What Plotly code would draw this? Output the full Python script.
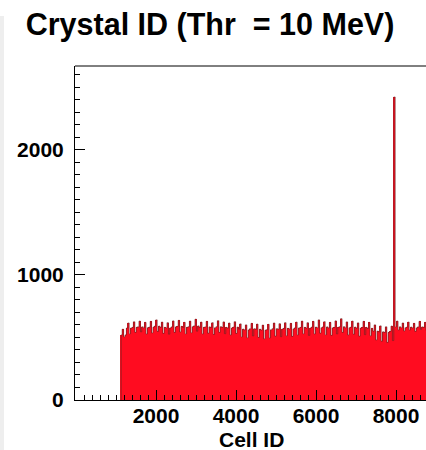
import plotly.graph_objects as go

# ---- data ----
bin_start = 1120          # first filled Cell ID
bin_width = 35            # Cell ID units per bin
# per ring-period (4 bins each: body, peak, notch, body)
body = [520, 575, 580, 585, 578, 582, 590, 580, 576, 584,
        588, 580, 586, 592, 580, 584, 578, 586, 580, 575,
        582, 566, 560, 570, 565, 558, 562, 570, 566, 572,
        568, 576, 580, 574, 582, 578, 584, 576, 580, 586,
        578, 582, 574, 580, 572, 550, 545, 540, 548, 585,
        578, 582, 576, 584, 580]
peak = [565, 615, 625, 630, 620, 628, 640, 622, 618, 632,
        636, 620, 630, 645, 622, 628, 618, 634, 624, 615,
        626, 608, 600, 612, 606, 598, 604, 615, 610, 618,
        612, 622, 630, 618, 628, 640, 626, 620, 632, 650,
        624, 630, 616, 628, 620, 600, 592, 585, 590, 630,
        615, 622, 612, 628, 620]
notch = [505, 530, 540, 545, 528, 536, 548, 532, 526, 540,
         544, 530, 538, 550, 528, 534, 524, 540, 530, 520,
         532, 505, 498, 512, 500, 490, 496, 510, 506, 514,
         508, 520, 530, 516, 528, 534, 522, 516, 528, 540,
         520, 526, 510, 522, 514, 480, 470, 460, 475, 560,
         552, 560, 548, 565, 556]
spike_bin = 195           # hot cell near ID 7975
spike_count = 2420

x_ticks = [2000, 4000, 6000, 8000]
y_ticks = [0, 1000, 2000]

# ---- assemble bins ----
counts = []
for b, p, n in zip(body, peak, notch):
    counts += [b, p, n, b]
counts[spike_bin] = spike_count
centers = [bin_start + bin_width * (i + 0.5) for i in range(len(counts))]

fig = go.Figure()
fig.add_trace(go.Bar(x=centers, y=counts, width=bin_width,
                     marker=dict(color="rgb(255,12,32)", line=dict(width=0)),
                     hoverinfo="skip"))
fig.add_trace(go.Scatter(x=[bin_start] + centers + [bin_start + bin_width * len(counts)],
                         y=[0] + counts + [counts[-1]],
                         mode="lines", line=dict(shape="hvh", color="rgba(120,35,35,0.7)", width=1),
                         hoverinfo="skip"))

font = "Liberation Sans, Arial, sans-serif"
fig.update_layout(
    width=426, height=450,
    margin=dict(l=75, r=0, t=66, b=50),
    paper_bgcolor="white", plot_bgcolor="white",
    showlegend=False, bargap=0,
    title=dict(text="Crystal ID (Thr  = 10 MeV)", xref="container", yref="container",
               x=0.493, xanchor="center", y=1 - 24 / 450, yanchor="middle",
               font=dict(family=font, size=30.5, color="black", weight="bold")),
    xaxis=dict(range=[-25, 8750], tickvals=x_ticks, ticks="inside", ticklen=10,
               tickcolor="black", tickwidth=1, showgrid=False, zeroline=False,
               showline=True, linecolor="black", linewidth=1, ticklabelstandoff=-3,
               tickfont=dict(family=font, size=21, color="black", weight="bold"),
               minor=dict(dtick=200, tick0=0, ticks="inside", ticklen=5, tickcolor="black", showgrid=False)),
    yaxis=dict(range=[0, 2668], tickvals=y_ticks, ticks="inside", ticklen=10,
               tickcolor="black", tickwidth=1, showgrid=False, zeroline=False,
               showline=True, linecolor="black", linewidth=1, ticklabelstandoff=6,
               tickfont=dict(family=font, size=21, color="black", weight="bold"),
               minor=dict(dtick=100, tick0=0, ticks="inside", ticklen=5, tickcolor="black", showgrid=False)),
    annotations=[dict(text="Cell ID", xref="paper", yref="paper", x=0.504, y=0,
                      xanchor="center", yanchor="middle", yshift=-39, showarrow=False,
                      font=dict(family=font, size=21, color="black", weight="bold"))],
    shapes=[dict(type="line", xref="paper", yref="paper", x0=0, x1=1, y0=1, y1=1,
                 line=dict(color="black", width=1)),
            dict(type="rect", xref="paper", yref="paper", x0=-75 / 351, x1=-71 / 351,
                 y0=-50 / 334, y1=384 / 334, line=dict(width=0), fillcolor="#eeeeee", layer="below")],
)

fig.write_html("out.html")
